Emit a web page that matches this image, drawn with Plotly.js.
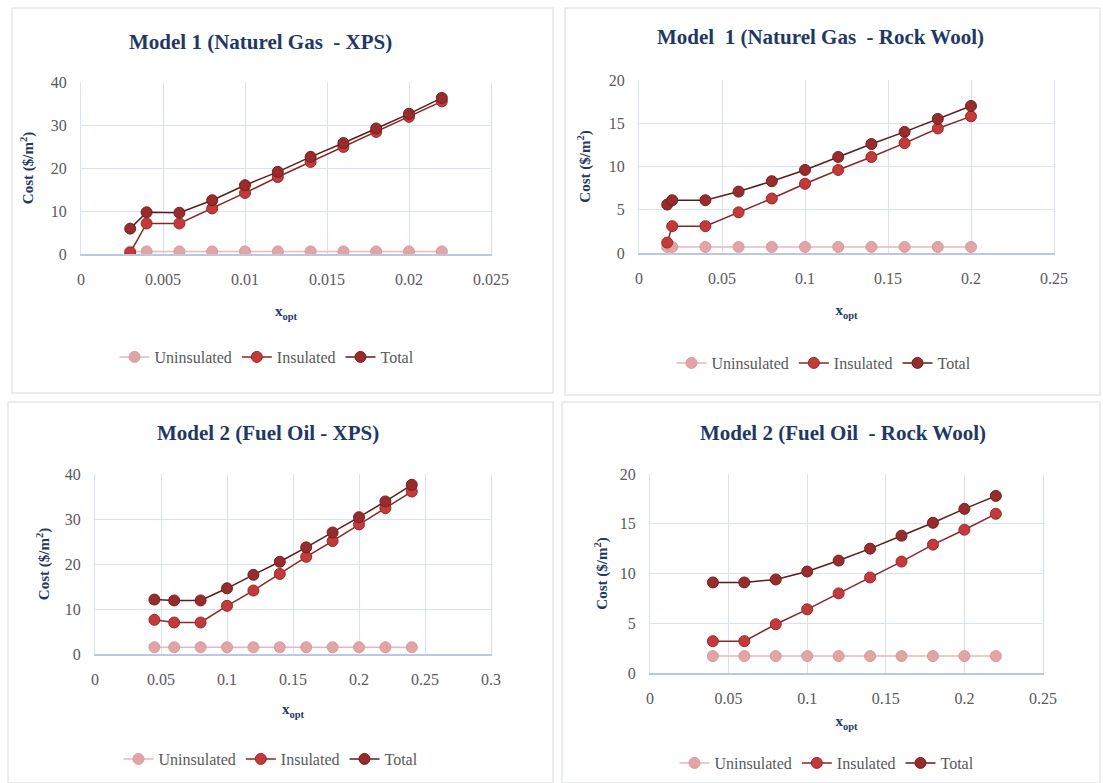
<!DOCTYPE html>
<html><head><meta charset="utf-8">
<script src="https://cdn.plot.ly/plotly-3.0.1.min.js"></script>
<style>html,body{margin:0;padding:0;background:#fff}#chart{width:1103px;height:783px}</style>
</head><body><div id="chart"></div>
<script>
// Panel 1: Model 1 (Naturel Gas - XPS)
const p1_x = [0.003, 0.004, 0.006, 0.008, 0.010, 0.012, 0.014, 0.016, 0.018, 0.020, 0.022];
const p1_unins = [0.6, 0.6, 0.6, 0.6, 0.6, 0.6, 0.6, 0.6, 0.6, 0.6, 0.6];
const p1_ins = [0.3, 7.1, 7.1, 10.6, 14.2, 17.9, 21.4, 24.9, 28.4, 31.9, 35.5];
const p1_total = [5.9, 9.7, 9.6, 12.5, 16.0, 19.1, 22.6, 25.8, 29.2, 32.6, 36.3];
// Panel 2: Model 1 (Naturel Gas - Rock Wool)
const p2_x = [0.017, 0.02, 0.04, 0.06, 0.08, 0.10, 0.12, 0.14, 0.16, 0.18, 0.20];
const p2_unins = [0.7, 0.7, 0.7, 0.7, 0.7, 0.7, 0.7, 0.7, 0.7, 0.7, 0.7];
const p2_ins = [1.2, 3.1, 3.1, 4.7, 6.3, 8.0, 9.6, 11.1, 12.7, 14.4, 15.8];
const p2_total = [5.6, 6.1, 6.1, 7.1, 8.3, 9.6, 11.1, 12.6, 14.0, 15.5, 17.0];
// Panel 3: Model 2 (Fuel Oil - XPS)
const p3_x = [0.045, 0.06, 0.08, 0.10, 0.12, 0.14, 0.16, 0.18, 0.20, 0.22, 0.24];
const p3_unins = [1.5, 1.5, 1.5, 1.5, 1.5, 1.5, 1.5, 1.5, 1.5, 1.5, 1.5];
const p3_ins = [7.6, 7.0, 7.0, 10.7, 14.1, 17.8, 21.6, 25.1, 28.8, 32.4, 36.1];
const p3_total = [12.1, 11.9, 11.9, 14.6, 17.6, 20.5, 23.7, 27.0, 30.4, 33.9, 37.6];
// Panel 4: Model 2 (Fuel Oil - Rock Wool)
const p4_x = [0.04, 0.06, 0.08, 0.10, 0.12, 0.14, 0.16, 0.18, 0.20, 0.22];
const p4_unins = [1.7, 1.7, 1.7, 1.7, 1.7, 1.7, 1.7, 1.7, 1.7, 1.7];
const p4_ins = [3.2, 3.2, 4.9, 6.4, 8.0, 9.6, 11.2, 12.9, 14.4, 16.0];
const p4_total = [9.1, 9.1, 9.4, 10.2, 11.3, 12.5, 13.8, 15.1, 16.5, 17.8];

const seriesNames = ['Uninsulated', 'Insulated', 'Total'];
const panelTitles = ['Model 1 (Naturel Gas \u00a0- XPS)', 'Model \u00a01 (Naturel Gas \u00a0- Rock Wool)',
  'Model 2 (Fuel Oil - XPS)', 'Model 2 (Fuel Oil \u00a0- Rock Wool)'];
const xTitle = '<b>x<sub>opt</sub></b>';
const yTitle = '<b>Cost ($/m<sup>2</sup>)</b>';
const yMax = [40, 20, 40, 20];
const xMax = [0.025, 0.25, 0.3, 0.25];
const xDtick = [0.005, 0.05, 0.05, 0.05];
const yDtick = [10, 5, 10, 5];

const W = 1103, H = 783;
const px = v => v / W, py = v => 1 - v / H;
const FONT = '"Times New Roman", "Liberation Serif", "DejaVu Serif", serif';

const styles = [
  {marker: '#e2a4a4', mline: '#d69a9a', line: '#e9b7b7'},
  {marker: '#c23a3a', mline: '#9c2828', line: '#8a2626'},
  {marker: '#982b2b', mline: '#702020', line: '#5a1c1c'}
];

const panels = [
  {x: p1_x, ys: [p1_unins, p1_ins, p1_total]},
  {x: p2_x, ys: [p2_unins, p2_ins, p2_total]},
  {x: p3_x, ys: [p3_unins, p3_ins, p3_total]},
  {x: p4_x, ys: [p4_unins, p4_ins, p4_total]}
];

// plot area geometry in pixels [left, right, top, bottom]
const geo = [[81, 491, 82, 254], [639, 1054, 80, 253], [95, 491, 474, 654], [650, 1043, 474, 673]];
const titlePos = [[260, 42], [820, 37], [268, 433], [843, 433]];
const xStand = [19, 19, 17, 10];
const yStand = [13, 14, 11, 8];
const legPos = [[267, 357], [824, 363], [271, 759], [827, 763]];
const boxes = [[12, 8, 553, 393], [565, 8, 1100, 395], [8, 402, 553, 783], [562, 402, 1100, 783]];

const traces = [];
const layout = {
  width: W, height: H, margin: {l: 0, r: 0, t: 0, b: 0},
  paper_bgcolor: '#fff', plot_bgcolor: '#fff', showlegend: true,
  font: {family: FONT, color: '#595959', size: 16},
  annotations: [], shapes: []
};

panels.forEach((p, i) => {
  const k = i + 1;
  const xa = k === 1 ? 'x' : 'x' + k, ya = k === 1 ? 'y' : 'y' + k;
  const lg = k === 1 ? 'legend' : 'legend' + k;
  p.ys.forEach((y, s) => {
    traces.push({
      type: 'scatter', mode: 'lines+markers', x: p.x, y: y, name: seriesNames[s],
      xaxis: xa, yaxis: ya, legend: lg,
      line: {color: styles[s].line, width: 1.5},
      marker: {color: styles[s].marker, size: 11, line: {color: styles[s].mline, width: 1}},
      hoverinfo: 'x+y'
    });
  });
  const g = geo[i];
  layout['xaxis' + (k === 1 ? '' : k)] = {
    domain: [px(g[0]), px(g[1])], anchor: ya, range: [0, xMax[i]], dtick: xDtick[i], tick0: 0,
    showgrid: true, gridcolor: '#d9e2f0', gridwidth: 1, zeroline: false,
    showline: true, linecolor: '#b9c9e2', linewidth: 1.5, mirror: false,
    ticks: '', ticklabelstandoff: 10, tickfont: {family: FONT, size: 16, color: '#595959'}, fixedrange: true,
    title: {text: xTitle, standoff: xStand[i], font: {family: FONT, size: 15, color: '#1f3864'}}
  };
  layout['yaxis' + (k === 1 ? '' : k)] = {
    domain: [py(g[3]), py(g[2])], anchor: xa, range: [0, yMax[i]], dtick: yDtick[i], tick0: 0,
    showgrid: true, gridcolor: '#d9e2f0', gridwidth: 1, zeroline: false,
    showline: true, linecolor: '#d9e2f0', linewidth: 1, mirror: true,
    ticks: '', ticklabelstandoff: 10, tickfont: {family: FONT, size: 16, color: '#595959'}, fixedrange: true,
    title: {text: yTitle, standoff: yStand[i], font: {family: FONT, size: 15, color: '#1f3864'}}
  };
  layout[lg] = {
    orientation: 'h', x: px(legPos[i][0]), y: py(legPos[i][1]), xanchor: 'center', yanchor: 'middle',
    font: {family: FONT, size: 16, color: '#595959'}, bgcolor: 'rgba(0,0,0,0)', traceorder: 'normal'
  };
  layout.annotations.push({
    text: '<b>' + panelTitles[i] + '</b>', xref: 'paper', yref: 'paper',
    x: px(titlePos[i][0]), y: py(titlePos[i][1]), xanchor: 'center', yanchor: 'middle',
    showarrow: false, font: {family: FONT, size: 21, color: '#1f3864'}
  });
  const b = boxes[i];
  layout.shapes.push({
    type: 'rect', xref: 'paper', yref: 'paper', x0: px(b[0]), x1: px(b[2]), y0: py(b[3]), y1: py(b[1]),
    line: {color: '#e3e7ec', width: 1.5}, fillcolor: 'rgba(0,0,0,0)', layer: 'below'
  });
});

Plotly.newPlot('chart', traces, layout, {displayModeBar: false, staticPlot: true});
</script></body></html>
